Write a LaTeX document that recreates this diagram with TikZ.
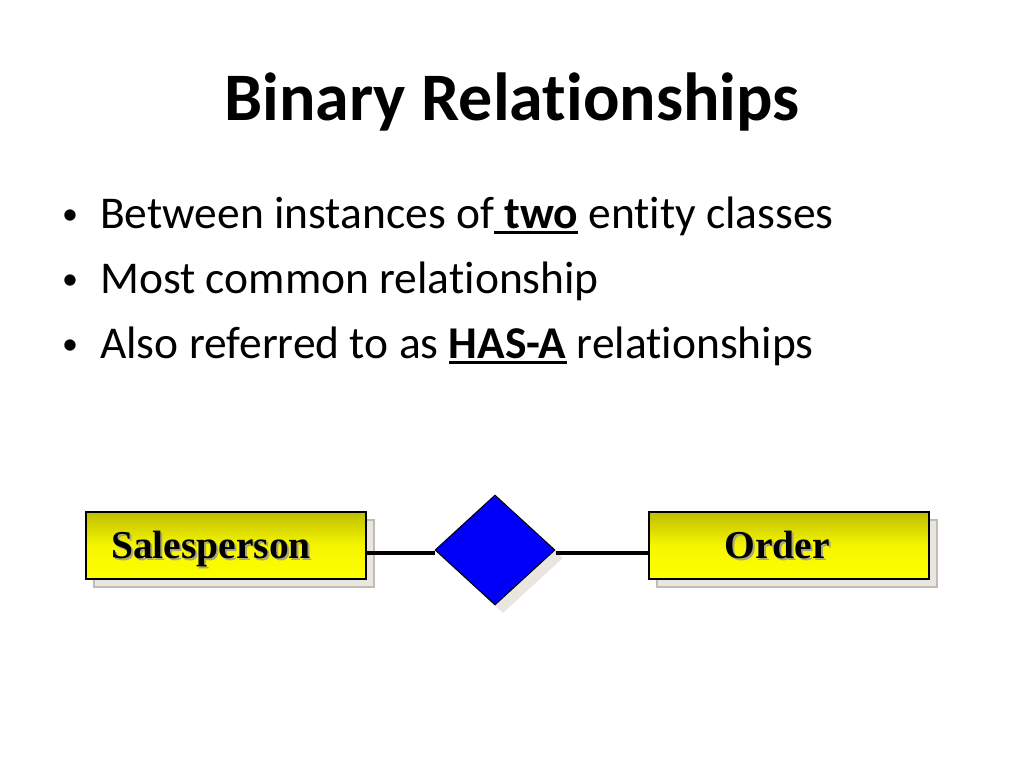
\documentclass[tikz,border=0pt]{standalone}
\usepackage{fontspec}
\setmainfont{Carlito}[Ligatures=NoCommon]
\newfontfamily\serifb{Liberation Serif}
\usetikzlibrary{shapes.geometric,shadows}
\definecolor{olivetop}{RGB}{190,190,0}
\definecolor{yel}{RGB}{255,255,0}
\definecolor{shadowc}{RGB}{232,230,222}
\definecolor{shadowb}{RGB}{190,188,180}
\definecolor{tshadow}{RGB}{170,168,120}
\definecolor{dblue}{RGB}{0,0,250}
\newcommand\myul[1]{\setbox0\hbox{#1}\rlap{\rule[-6pt]{\wd0}{3pt}}\box0\relax}
\newcommand\shtext[1]{\rlap{\raisebox{-2pt}{\hspace{2pt}\color{tshadow}#1}}#1}
\tikzset{
  entity/.style={rectangle, draw=black, line width=1.3pt, minimum width=280pt, minimum height=67pt,
    inner sep=0pt, top color=olivetop, bottom color=yel, middle color=yel!85!olivetop,
    drop shadow={shadow xshift=8pt, shadow yshift=-8pt, fill=shadowc, draw=shadowb, opacity=1}},
  relship/.style={diamond, draw=black, line width=1pt, fill=dblue, minimum width=120pt, minimum height=110pt, inner sep=0pt,
    drop shadow={shadow xshift=8pt, shadow yshift=-8pt, fill=shadowc, draw=none, opacity=1}},
  link/.style={line width=4.5pt, black},
  etext/.style={font=\serifb\bfseries\fontsize{39.5pt}{44pt}\selectfont, anchor=base},
  bullettext/.style={anchor=base west, font=\fontsize{45.5pt}{54pt}\selectfont, inner sep=0pt},
  bulletdot/.style={anchor=base, font=\fontsize{32pt}{40pt}\selectfont, inner sep=0pt}
}
\begin{document}
\begin{tikzpicture}[x=1pt,y=-1pt]
\useasboundingbox[fill=white] (0,0) rectangle (1024,768);
\node[anchor=base, font=\bfseries\fontsize{68pt}{80pt}\selectfont, inner sep=0pt] (title) at (512,120) {Binary Relationships};

\node[bulletdot] (b1) at (70,224) {•};
\node[bullettext] (l1) at (100,228) {Between instances of\myul{ \textbf{two}} entity classes};
\node[bulletdot] (b2) at (70,289) {•};
\node[bullettext] (l2) at (100,293) {Most common relationship};
\node[bulletdot] (b3) at (70,354) {•};
\node[bullettext] (l3) at (100,358) {Also referred to as \myul{\textbf{HAS-A}} relationships};

\node[entity] (sp) at (226,545.5) {};
\node[entity] (ord) at (789,545.5) {};
\node[relship] (rel) at (495,550) {};
\draw[link] (sp.east |- 0,553) -- (rel.west |- 0,553);
\draw[link] (rel.east |- 0,553) -- (ord.west |- 0,553);
\node[etext] (spt) at (211,558) {\shtext{Salesperson}};
\node[etext] (ordt) at (777,558) {\shtext{Order}};
\end{tikzpicture}
\end{document}
